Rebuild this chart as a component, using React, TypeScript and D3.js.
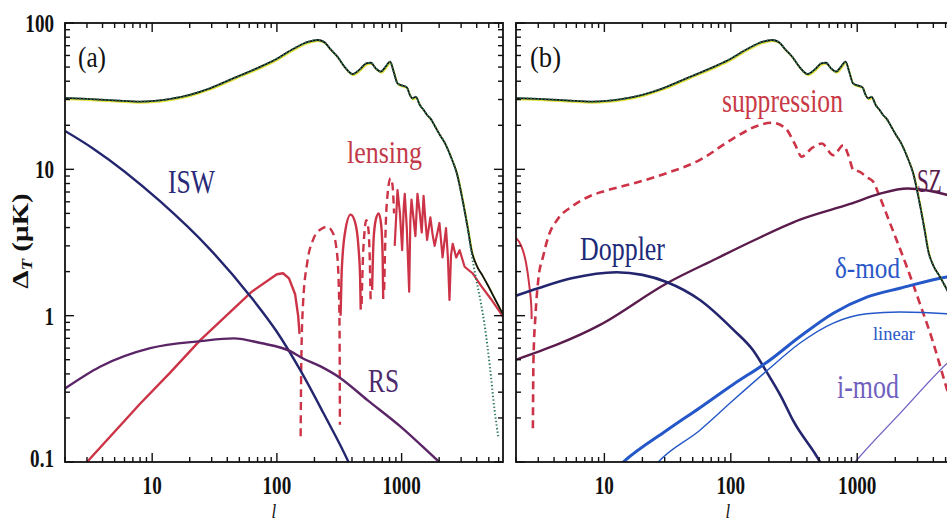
import React from "react";
import * as d3 from "d3";

type P = [number, number];

const L_MIN = 2;
const L_MAX = 6500;
const T_MIN = 0.1;
const T_MAX = 100;

const yTickValues = [0.1, 1, 10, 100];
const yTickLabels = ["0.1", "1", "10", "100"];
const xTickValues = [10, 100, 1000];
const xTickLabels = ["10", "100", "1000"];

// total temperature spectrum (both panels)
const totalSpectrum: P[] = [
  [2, 30.7], [3, 30.3], [5, 29.6], [8, 29.0], [14, 30.3], [20, 32.3], [29, 35.8], [45, 42],
  [74, 50.3], [100, 57], [137, 67], [180, 74.5], [211, 76.5], [240, 74], [270, 66], [305, 59],
  [350, 50], [404, 44.8], [460, 48], [520, 53], [566, 53.5], [620, 49], [681, 46.5], [740, 50],
  [809, 54.4], [860, 47], [927, 38.7], [1000, 37.5], [1102, 36.3], [1160, 32.5], [1220, 30.6],
  [1300, 31.3], [1400, 27.5], [1500, 25.5], [1600, 23.5], [1700, 22.3], [1828, 20.1], [2000, 17.5],
  [2197, 15.4], [2500, 12], [2770, 9.4], [3100, 6.0], [3400, 3.9], [3650, 2.75], [4000, 2.2],
  [4500, 1.85], [4900, 1.62], [5600, 1.3], [6500, 1.02],
];
// unlensed damping tail (dotted, panel a)
const unlensedTail: P[] = [
  [3100, 6.0], [3400, 3.85], [3650, 2.6], [3900, 1.9], [4300, 1.25], [4650, 0.84], [5100, 0.45],
  [5550, 0.23], [5950, 0.15],
];

// panel (a)
const iswA: P[] = [
  [2, 18.3], [3.35, 13.9], [11.55, 6.06], [29.1, 2.84], [60.9, 1.365], [100.2, 0.773], [154, 0.424],
  [236, 0.216], [377, 0.099], [450, 0.07],
];
const rsA: P[] = [
  [2, 0.318], [3.82, 0.448], [9.65, 0.6], [24.4, 0.67], [45, 0.7], [74, 0.65], [129, 0.57],
  [155, 0.52], [224, 0.45], [315, 0.38], [532, 0.265], [986, 0.174], [2005, 0.1], [2300, 0.09],
];
const lensA1: P[] = [
  [3, 0.1], [8, 0.25], [14, 0.41], [24.3, 0.68], [63, 1.46], [100, 1.92], [112, 1.95], [125, 1.8],
  [140, 1.4], [148, 1.0], [152, 0.75],
];
const lensA2: P[] = [
  [155, 0.15], [157, 0.5], [162, 1.2], [175, 2.3], [195, 3.3], [225, 3.9], [253, 4.05], [280, 3.7],
  [300, 2.9], [312, 1.8], [318, 0.8], [320, 0.18],
];
const lensA3: P[] = [
  [324, 1.0], [330, 1.9], [350, 3.6], [390, 4.9], [425, 4.3], [450, 3.0], [465, 1.8], [470, 1.1],
];
const lensA4: P[] = [
  [478, 1.2], [490, 2.5], [505, 3.8], [520, 4.5], [540, 4.0], [555, 2.5], [565, 1.2],
];
const lensA5: P[] = [
  [580, 1.5], [595, 3.2], [620, 4.5], [655, 5.0], [685, 4.2], [705, 2.5], [712, 1.3],
];
const lensA6: P[] = [
  [725, 1.5], [745, 4.0], [775, 7.0], [815, 8.7], [845, 7.8], [870, 5.0],
];
const lensA7: P[] = [
  [880, 3.0], [927, 7.2], [970, 5.0], [1010, 2.8], [1040, 5.5], [1060, 6.8], [1100, 4.0],
  [1150, 1.46], [1175, 4.5], [1200, 6.2], [1250, 4.5], [1290, 3.5], [1340, 6.8], [1400, 5.0],
  [1450, 3.7], [1500, 6.6], [1550, 4.5], [1600, 3.3], [1700, 4.7], [1770, 3.6], [1840, 3.0],
  [2010, 4.3], [2130, 2.5], [2270, 3.96], [2350, 2.5], [2420, 1.28], [2490, 2.6], [2570, 3.1],
  [2740, 2.5], [2920, 2.8], [3200, 2.16], [3700, 1.95], [4340, 1.6], [5200, 1.3], [6280, 1.03],
  [6500, 0.98],
];

// panel (b)
const lensB: P[] = [[2, 3.4], [2.2, 3.0], [2.4, 2.3], [2.55, 1.6], [2.65, 1.1], [2.66, 0.95]];
const suppressionB: P[] = [
  [2.72, 0.17], [2.75, 0.5], [2.85, 1.0], [3.0, 1.75], [3.3, 2.6], [3.6, 3.46], [4.3, 4.6],
  [5.5, 5.55], [7.5, 6.5], [10, 7.1], [16.9, 8.0], [31, 9.4], [57, 11.6], [105, 16.3], [170, 20.1],
  [211, 20.8], [269, 19.2], [320, 15.0], [364, 12.2], [440, 14.0], [524, 15.0], [647, 12.5],
  [777, 14.6], [850, 12.5], [932, 9.9], [1050, 9.6], [1200, 8.8], [1343, 8.2], [1470, 6.85],
  [1820, 4.27], [2466, 2.16], [3140, 1.2], [4000, 0.65], [4800, 0.38], [6000, 0.2],
];
const dopplerB: P[] = [
  [2, 1.37], [3, 1.54], [5.5, 1.8], [12.5, 1.98], [20, 1.9], [31, 1.7], [57, 1.28], [105, 0.8],
  [150, 0.58], [193, 0.41], [250, 0.28], [313, 0.19], [508, 0.1], [560, 0.085],
];
const szB: P[] = [
  [2, 0.5], [9.24, 0.865], [31, 1.66], [77.4, 2.46], [150, 3.25], [353, 4.53], [878, 5.8],
  [1500, 6.8], [2500, 7.4], [3500, 7.2], [5100, 6.7], [6500, 6.3],
];
const deltaModB: P[] = [
  [12, 0.088], [14.1, 0.1], [31, 0.164], [57, 0.235], [105, 0.34], [193, 0.48], [353, 0.72],
  [647, 1.04], [1190, 1.34], [2180, 1.54], [5100, 1.84], [6500, 1.9],
];
const linearB: P[] = [
  [24, 0.09], [26.7, 0.1], [57, 0.165], [105, 0.265], [193, 0.42], [353, 0.65], [647, 0.89],
  [1190, 1.03], [2180, 1.06], [5100, 1.03], [6500, 1.0],
];
const iModB: P[] = [[850, 0.088], [962, 0.1], [2180, 0.215], [5100, 0.47], [6500, 0.57]];

const FONT = "'Liberation Serif', 'Times New Roman', Times, serif";
const SX = 0.78;

const C_NAVY = "#23266e";
const C_RED = "#cc3346";
const C_PURPLE = "#5a2466";
const C_SZ = "#5a1c4c";
const C_BLUE = "#2457c8";
const C_VIOLET = "#7563c4";

const TOP = 23;
const BOTTOM = 462;

function makeTicks(): { x: number[]; xMajor: Set<number>; y: number[]; yMajor: Set<number> } {
  const x: number[] = [];
  for (const e of [1, 10, 100, 1000]) for (let k = 1; k <= 9; k++) {
    const v = k * e;
    if (v >= L_MIN && v <= L_MAX) x.push(v);
  }
  const y: number[] = [];
  for (const e of [0.1, 1, 10]) for (let k = 1; k <= 9; k++) y.push(k * e);
  y.push(100);
  return { x, xMajor: new Set(xTickValues), y, yMajor: new Set(yTickValues) };
}

function Panel({ id, x0, x1, showY }: { id: string; x0: number; x1: number; showY: boolean }) {
  const xs = d3.scaleLog().domain([L_MIN, L_MAX]).range([x0, x1]);
  const ys = d3.scaleLog().domain([T_MIN, T_MAX]).range([BOTTOM, TOP]);
  const line = (curve: d3.CurveFactory = d3.curveMonotoneX) =>
    d3.line<P>().x((d) => xs(d[0])).y((d) => ys(d[1])).curve(curve);
  const sm = line();
  const lin = line(d3.curveLinear);
  const t = makeTicks();
  const ticks: React.ReactNode[] = [];
  t.x.forEach((v, i) => {
    const len = t.xMajor.has(v) ? 9 : 5;
    const X = xs(v);
    ticks.push(<line key={"xb" + i} x1={X} x2={X} y1={BOTTOM} y2={BOTTOM - len} />);
    ticks.push(<line key={"xt" + i} x1={X} x2={X} y1={TOP} y2={TOP + len} />);
  });
  t.y.forEach((v, i) => {
    const len = t.yMajor.has(v) ? 9 : 5;
    const Y = ys(v);
    ticks.push(<line key={"yl" + i} x1={x0} x2={x0 + len} y1={Y} y2={Y} />);
    ticks.push(<line key={"yr" + i} x1={x1} x2={x1 - len} y1={Y} y2={Y} />);
  });
  const clip = `url(#clip-${id})`;
  const dash = "8,5";
  const totalPanelA = totalSpectrum.filter((d) => d[0] <= 3100).concat(unlensedTail.slice(1));
  return (
    <g>
      <defs>
        <clipPath id={`clip-${id}`}>
          <rect x={x0} y={TOP} width={x1 - x0} height={BOTTOM - TOP} />
        </clipPath>
      </defs>
      <g clipPath={clip} fill="none" strokeLinejoin="round">
        {id === "a" ? (
          <g>
            <path d={lin(lensA1)!} stroke={C_RED} strokeWidth={2.4} />
            <path d={sm(lensA2)!} stroke={C_RED} strokeWidth={2.4} strokeDasharray={dash} />
            <path d={sm(lensA3)!} stroke={C_RED} strokeWidth={2.4} />
            <path d={sm(lensA4)!} stroke={C_RED} strokeWidth={2.4} strokeDasharray={dash} />
            <path d={sm(lensA5)!} stroke={C_RED} strokeWidth={2.4} />
            <path d={sm(lensA6)!} stroke={C_RED} strokeWidth={2.4} strokeDasharray={dash} />
            <path d={lin(lensA7)!} stroke={C_RED} strokeWidth={2.2} />
            <path d={sm(iswA)!} stroke={C_NAVY} strokeWidth={2.4} />
            <path d={sm(rsA)!} stroke={C_PURPLE} strokeWidth={2.4} />
            <path d={sm(totalSpectrum)!} stroke="#e2e23c" strokeWidth={1.6} transform="translate(0.8,1.3)" />
            <path d={sm(totalSpectrum)!} stroke="#111" strokeWidth={1.8} />
            <path d={sm(totalPanelA)!} stroke="#2f7a5c" strokeWidth={2} strokeDasharray="1.4,2.2" />
          </g>
        ) : (
          <g>
            <path d={sm(lensB)!} stroke={C_RED} strokeWidth={2} />
            <path d={sm(suppressionB)!} stroke={C_RED} strokeWidth={2.6} strokeDasharray={dash} />
            <path d={sm(szB)!} stroke={C_SZ} strokeWidth={2.4} />
            <path d={sm(dopplerB)!} stroke={C_NAVY} strokeWidth={2.6} />
            <path d={sm(linearB)!} stroke={C_BLUE} strokeWidth={1.4} />
            <path d={sm(deltaModB)!} stroke={C_BLUE} strokeWidth={3} />
            <path d={sm(iModB)!} stroke={C_VIOLET} strokeWidth={1.4} />
            <path d={sm(totalSpectrum)!} stroke="#e2e23c" strokeWidth={1.6} transform="translate(0.8,1.3)" />
            <path d={sm(totalSpectrum)!} stroke="#111" strokeWidth={1.8} />
            <path d={sm(totalSpectrum)!} stroke="#2f7a5c" strokeWidth={2} strokeDasharray="1.4,2.2" />
          </g>
        )}
      </g>
      <g stroke="#111" strokeWidth={1.4}>{ticks}</g>
      <rect x={x0} y={TOP} width={x1 - x0} height={BOTTOM - TOP} fill="none" stroke="#111" strokeWidth={1.8} />
      <g fontFamily={FONT} fontWeight="bold" fontSize={24.5} fill="#111">
        {xTickValues.map((v, i) => (
          <text key={"xl" + i} transform={`translate(${xs(v)},493.5) scale(${SX},1)`} textAnchor="middle">
            {xTickLabels[i]}
          </text>
        ))}
        {showY &&
          yTickValues.map((v, i) => (
            <text
              key={"yl" + i}
              transform={`translate(54,${ys(v) + (i === 0 ? 5 : 9)}) scale(${SX},1)`}
              textAnchor="end"
            >
              {yTickLabels[i]}
            </text>
          ))}
      </g>
      <text
        transform={`translate(${xs(100) - 3},518) scale(${SX},1)`}
        fontFamily={FONT}
        fontStyle="italic"
        fontSize={21.5}
        fill="#111"
        textAnchor="middle"
      >
        l
      </text>
    </g>
  );
}

function Lab({ x, y, fs, w, fill, text }: { x: number; y: number; fs: number; w: number; fill: string; text: string }) {
  return (
    <text x={x} y={y} fontSize={fs} fill={fill} fontFamily={FONT} textLength={w} lengthAdjust="spacingAndGlyphs">
      {text}
    </text>
  );
}

export default function App() {
  return (
    <svg width={947} height={523} style={{ display: "block", position: "absolute", left: 0, top: 0 }}>
      <rect width={947} height={523} fill="#fff" />
      <Panel id="a" x0={65} x1={503} showY={true} />
      <Panel id="b" x0={516} x1={960} showY={false} />
      <Lab x={78} y={66.5} fs={29} w={28} fill="#111" text="(a)" />
      <Lab x={530} y={66.5} fs={29} w={31} fill="#111" text="(b)" />
      <Lab x={168} y={193} fs={34} w={47} fill="#2a2a78" text="ISW" />
      <Lab x={347} y={163} fs={31} w={75} fill="#c23a4a" text="lensing" />
      <Lab x={368} y={392} fs={34} w={31} fill="#4c2a6c" text="RS" />
      <Lab x={722} y={112} fs={33} w={121} fill="#c83a46" text="suppression" />
      <Lab x={580} y={260} fs={34} w={85} fill="#1c2a78" text="Doppler" />
      <text transform="translate(917,192) scale(0.64,1)" fontSize={33} fill="#5a1c4c" fontFamily={FONT}>
        SZ
      </text>
      <Lab x={835} y={278} fs={30} w={65} fill="#2a57c8" text="δ-mod" />
      <Lab x={873} y={340} fs={19} w={42} fill="#2a57c8" text="linear" />
      <Lab x={837} y={398} fs={33} w={62} fill="#7060c0" text="i-mod" />
      <text
        transform={`translate(28,241) scale(${SX},1) rotate(-90)`}
        fontFamily={FONT}
        fontWeight="bold"
        fontSize={29}
        fill="#111"
        textAnchor="middle"
      >
        Δ<tspan fontStyle="italic" fontSize={19} dy={5}>T</tspan>
        <tspan dy={-5}> (μK)</tspan>
      </text>
    </svg>
  );
}
